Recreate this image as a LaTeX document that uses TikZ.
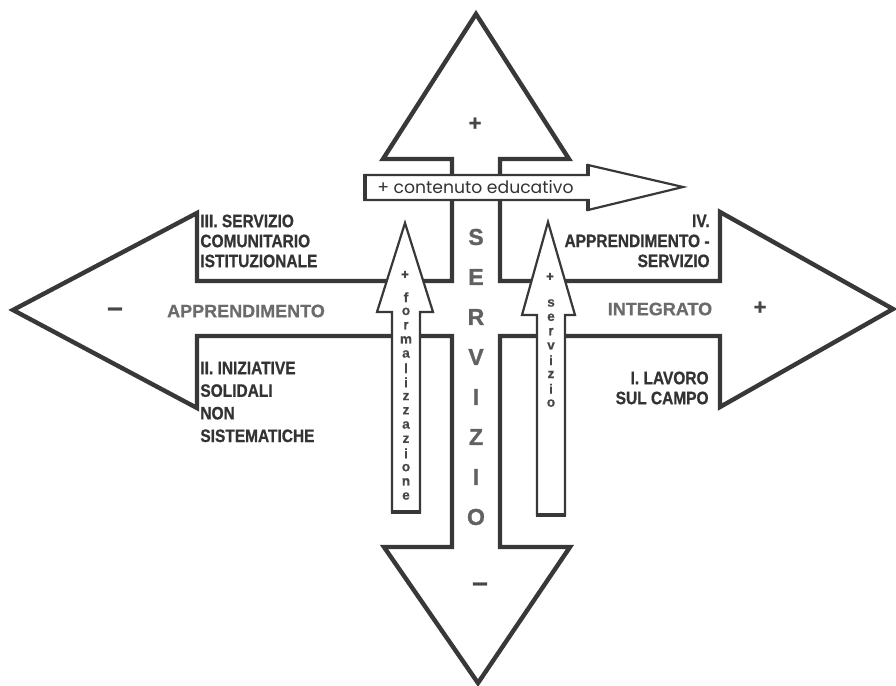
\documentclass[tikz,border=0pt]{standalone}
\usepackage{fontspec}
\setmainfont{Liberation Sans}
\newfontfamily\condfont{Liberation Sans Bold}[FakeStretch=0.86, FakeBold=0.8]
\newfontfamily\heavyfont{Liberation Sans Bold}[FakeBold=0.6]
\newfontfamily\blackfont{Liberation Sans Bold}[FakeBold=1.2]
\newfontfamily\roundfont{Poppins}
\begin{document}
\begin{tikzpicture}[x=0.5pt, y=-0.5pt,
    outline/.style={draw=black!78, line width=2.2pt, line join=miter},
    smallarrow/.style={draw=black!78, fill=white, line width=1.1pt},
    thickedge/.style={draw=black!78, line width=2.2pt},
    quadrant/.style={font=\condfont\fontsize{9}{10}\selectfont, text=black!80, inner sep=0pt},
    axislabel/.style={font=\heavyfont\fontsize{9}{10}\selectfont, text=black!58, inner sep=0pt},
    sign/.style={font=\heavyfont\fontsize{11}{11}\selectfont, text=black!72, inner sep=0pt},
    minus/.style={font=\blackfont\fontsize{14}{14}\selectfont, text=black!72, inner sep=0pt},
    bigletter/.style={font=\blackfont\fontsize{11.5}{12}\selectfont, text=black!62, inner sep=0pt},
    tinyletter/.style={font=\heavyfont\fontsize{6.8}{7}\selectfont, text=black!72, inner sep=0pt}]
    \useasboundingbox (0,0) rectangle (896,686);
    \fill[white] (0,0) rectangle (896,686);
    \draw[outline] (476,14) -- (569,159) -- (500,159) -- (500,281) -- (720,281) -- (720,212)
        -- (893,309) -- (720,407) -- (720,336) -- (500,336) -- (500,547) -- (570,547)
        -- (478,683) -- (384,547) -- (452,547) -- (452,336) -- (197,336) -- (197,408)
        -- (13,310) -- (197,213) -- (197,281) -- (452,281) -- (452,159) -- (383,159) -- cycle;
    \draw[smallarrow] (365,175) -- (588,175) -- (588,165) -- (683,187) -- (588,210) -- (588,200) -- (365,200) -- cycle;
    \draw[thickedge] (365,174) -- (365,201);
    \draw[thickedge] (588,164) -- (588,176) (588,199) -- (588,211);
    \draw[smallarrow] (405,223) -- (433,312) -- (420,312) -- (420,512) -- (392,512) -- (392,312) -- (377,312) -- cycle;
    \draw[thickedge] (391,512) -- (421,512);
    \draw[smallarrow] (548,222) -- (575,315) -- (565,315) -- (565,515) -- (537,515) -- (537,315) -- (522,315) -- cycle;
    \draw[thickedge] (536,515) -- (566,515);
    \node[anchor=west, inner sep=0pt, text=black!80, font=\roundfont\fontsize{8.6}{9}\selectfont] (educ) at (377,187) {+ contenuto educativo};
    \node[quadrant, anchor=west, align=left] (q3) at (200,241) {III. SERVIZIO\\COMUNITARIO\\ISTITUZIONALE};
    \node[quadrant, anchor=west, align=left, font=\condfont\fontsize{9}{11.3}\selectfont] (q2) at (200,402) {II. INIZIATIVE\\SOLIDALI\\NON\\SISTEMATICHE};
    \node[quadrant, anchor=east, align=right] (q4) at (710,241) {IV.\\APPRENDIMENTO -\\SERVIZIO};
    \node[quadrant, anchor=east, align=right] (q1) at (709,388) {I. LAVORO\\SUL CAMPO};
    \node[axislabel] (learn) at (246,311) {APPRENDIMENTO};
    \node[axislabel] (integr) at (660,309) {INTEGRATO};
    \node[sign] (top) at (475,124) {+};
    \node[minus] (bottom) at (480,587) {–};
    \node[minus] (left) at (115,312) {–};
    \node[sign] (right) at (760,308) {+};
    \foreach \ch [count=\i] in {S,E,R,V,I,Z,I,O}
        \node[bigletter] (serv\i) at (476,197+40*\i) {\ch};
    \node[tinyletter] (formplus) at (405,275) {+};
    \foreach \ch [count=\i] in {f,o,r,m,a,l,i,z,z,a,z,i,o,n,e}
        \node[tinyletter] (form\i) at (406,283+14.2*\i) {\ch};
    \node[tinyletter] (servplus) at (550,277) {+};
    \foreach \ch [count=\i] in {s,e,r,v,i,z,i,o}
        \node[tinyletter] (small\i) at (551,288.7+14.3*\i) {\ch};
\end{tikzpicture}
\end{document}
